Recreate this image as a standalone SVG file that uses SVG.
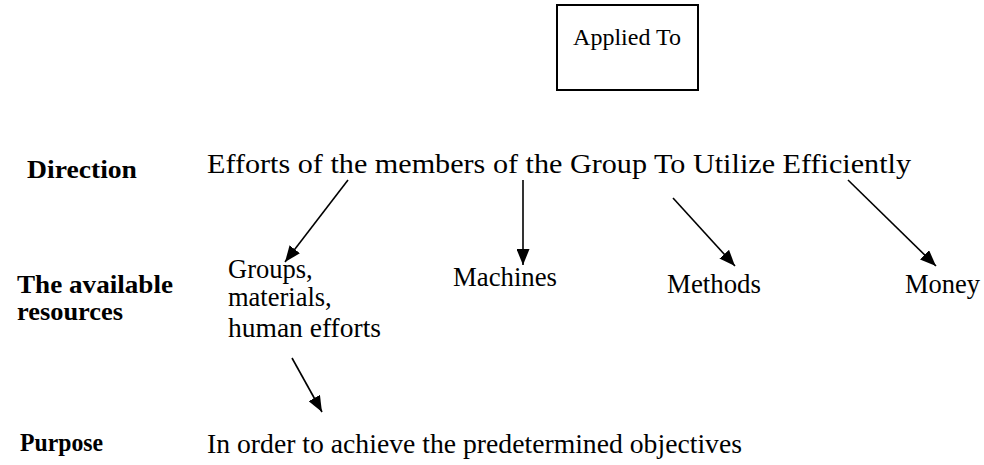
<svg xmlns="http://www.w3.org/2000/svg" width="984" height="465" viewBox="0 0 984 465">
<defs>
<marker id="ah" viewBox="0 0 10 10" refX="10" refY="5" markerWidth="16" markerHeight="13" markerUnits="userSpaceOnUse" orient="auto" preserveAspectRatio="none">
<path d="M0,0 L10,5 L0,10 z" fill="#000"/>
</marker>
<style>
text{font-family:"Liberation Serif","Times New Roman",serif;fill:#000}
.b{font-weight:bold;font-size:26px}
.r{font-size:24px}
.l{font-size:26.5px}
.m{font-size:28px}
.c{stroke:#000;stroke-width:1.6;fill:none;marker-end:url(#ah)}
</style>
</defs>
<rect width="984" height="465" fill="#fff"/>
<g id="applied">
<rect x="557" y="5" width="141" height="85" fill="#fff" stroke="#000" stroke-width="2"/>
<text class="r" x="627" y="45" text-anchor="middle">Applied To</text>
</g>
<g id="direction-label"><text class="b" x="27" y="178" textLength="110" lengthAdjust="spacingAndGlyphs">Direction</text></g>
<g id="efforts"><text class="m" x="207" y="173" textLength="704" lengthAdjust="spacingAndGlyphs">Efforts of the members of the Group To Utilize Efficiently</text></g>
<g id="resources-label"><text class="b" x="17" y="293" textLength="156" lengthAdjust="spacingAndGlyphs">The available</text><text class="b" x="17" y="320" textLength="106" lengthAdjust="spacingAndGlyphs">resources</text></g>
<g id="groups"><text class="l" x="228" y="278">Groups,</text><text class="l" x="228" y="306">materials,</text><text class="l" x="228" y="337" textLength="153" lengthAdjust="spacingAndGlyphs">human efforts</text></g>
<g id="machines"><text class="l" x="453" y="286" textLength="104" lengthAdjust="spacingAndGlyphs">Machines</text></g>
<g id="methods"><text class="l" x="667" y="293" textLength="94" lengthAdjust="spacingAndGlyphs">Methods</text></g>
<g id="money"><text class="l" x="905" y="293">Money</text></g>
<g id="purpose-label"><text class="b" x="20" y="451" textLength="83" lengthAdjust="spacingAndGlyphs">Purpose</text></g>
<g id="objectives"><text class="m" x="207" y="453" textLength="535" lengthAdjust="spacingAndGlyphs">In order to achieve the predetermined objectives</text></g>
<g id="connectors">
<line class="c" x1="348" y1="180" x2="285" y2="262"/>
<line class="c" x1="523" y1="180" x2="523" y2="265"/>
<line class="c" x1="673" y1="198" x2="735" y2="266"/>
<line class="c" x1="848" y1="180" x2="936" y2="266"/>
<line class="c" x1="292" y1="358" x2="322" y2="412"/>
</g>
</svg>
